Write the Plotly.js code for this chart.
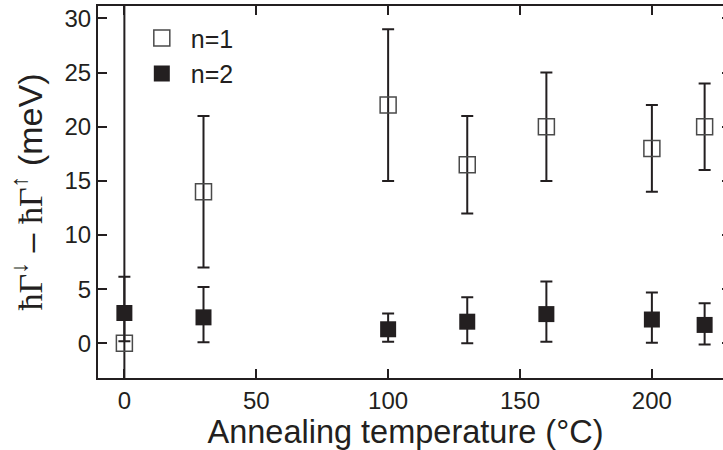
<!DOCTYPE html>
<html>
<head>
<meta charset="utf-8">
<script src="https://cdn.plot.ly/plotly-3.0.1.min.js"></script>
<style>
html, body { margin: 0; padding: 0; overflow: hidden; background: #fff; }
#chart { width: 731px; height: 450px; }
</style>
</head>
<body>
<div id="chart"></div>
<script>
// Annealing temperature (°C)
const temps = [0, 30, 100, 130, 160, 200, 220];

// n=1 (open squares)
const n1Values = [0, 14, 22, 16.5, 20, 18, 20];
const n1ErrPlus = [40, 7, 7, 4.5, 5, 4, 4];
const n1ErrMinus = [40, 7, 7, 4.5, 5, 4, 4];

// n=2 (filled squares)
const n2Values = [2.8, 2.4, 1.3, 2.0, 2.7, 2.2, 1.7];
const n2ErrPlus = [3.35, 2.8, 1.45, 2.25, 3.0, 2.5, 2.0];
const n2ErrMinus = [2.6, 2.3, 1.15, 2.0, 2.55, 2.15, 1.8];

const seriesNames = ['n=1', 'n=2'];
const xTicks = [0, 50, 100, 150, 200];
const yTicks = [0, 5, 10, 15, 20, 25, 30];

const ink = '#231f20';
const sans = 'Liberation Sans, Arial, sans-serif';
const serif = 'Liberation Serif, Times New Roman, serif';

const traces = [
  {
    x: temps, y: n1Values, name: seriesNames[0], type: 'scatter', mode: 'markers',
    marker: { symbol: 'square-open', size: 16, color: '#4a4a4a', line: { width: 1.5, color: '#4a4a4a' } },
    error_y: { type: 'data', symmetric: false, array: n1ErrPlus, arrayminus: n1ErrMinus, color: ink, thickness: 2, width: 6 }
  },
  {
    x: temps, y: n2Values, name: seriesNames[1], type: 'scatter', mode: 'markers',
    marker: { symbol: 'square', size: 16, color: ink, line: { width: 0 } },
    error_y: { type: 'data', symmetric: false, array: n2ErrPlus, arrayminus: n2ErrMinus, color: ink, thickness: 2, width: 6 }
  }
];

const layout = {
  width: 731, height: 450,
  margin: { l: 98, r: 0, t: 6, b: 72 },
  paper_bgcolor: '#ffffff', plot_bgcolor: '#ffffff',
  font: { family: sans, color: ink, size: 23 },
  showlegend: true,
  legend: {
    x: 0.055, y: 0.975, xanchor: 'left', yanchor: 'top',
    bgcolor: 'rgba(0,0,0,0)', borderwidth: 0,
    font: { family: sans, size: 25, color: ink },
    itemsizing: 'trace', itemwidth: 48, tracegroupgap: 0
  },
  xaxis: {
    range: [-10, 230],
    tickmode: 'array', tickvals: xTicks, ticktext: xTicks.map(String),
    ticks: 'inside', ticklen: 9, tickwidth: 2, tickcolor: ink,
    showline: true, linewidth: 2, linecolor: ink, mirror: 'ticks',
    showgrid: false, zeroline: false,
    tickfont: { family: sans, size: 24, color: ink },
    title: { text: 'Annealing temperature (°C)&nbsp;&nbsp;', font: { family: sans, size: 32.5, color: ink }, standoff: 4 }
  },
  yaxis: {
    range: [-3.2, 31.15],
    tickmode: 'array', tickvals: yTicks, ticktext: yTicks.map(String),
    ticks: 'inside', ticklen: 9, tickwidth: 2, tickcolor: ink,
    showline: true, linewidth: 2, linecolor: ink, mirror: 'ticks',
    showgrid: false, zeroline: false,
    tickfont: { family: sans, size: 24, color: ink },
    title: {
      text: '<span style="font-family:' + serif + '">ħΓ</span><sup>↓</sup> – <span style="font-family:' + serif + '">ħΓ</span><sup>↑</sup> (meV)',
      font: { family: sans, size: 34, color: ink }, standoff: 12
    }
  }
};

Plotly.newPlot('chart', traces, layout, { displayModeBar: false, staticPlot: true });
</script>
</body>
</html>
